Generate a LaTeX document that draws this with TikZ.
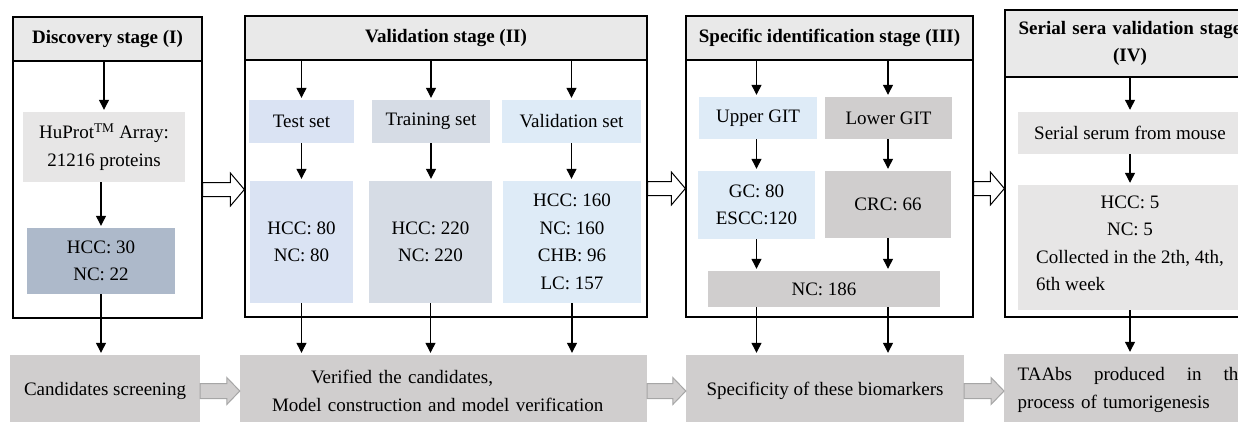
\documentclass[tikz,border=0pt]{standalone}
\usepackage{fontspec}
\setmainfont{Liberation Serif}
\usetikzlibrary{arrows.meta,calc}
\hyphenpenalty=10000
\definecolor{hdr}{HTML}{E9E9E9}
\definecolor{lgray}{HTML}{E7E6E6}
\definecolor{mgray}{HTML}{D0CECE}
\definecolor{dblue}{HTML}{ADB9CA}
\definecolor{blueA}{HTML}{DAE3F3}
\definecolor{blueB}{HTML}{D6DCE5}
\definecolor{blueC}{HTML}{DEEBF7}
\definecolor{arrgray}{HTML}{A6A6A6}
\newcommand{\blockarrow}[6]{%
  \draw[#1] let \p1=(#2), \p2=(#3) in
    (\x1,\y1+#4) -- (\x2-#6,\y1+#4) -- (\x2-#6,\y1+#5) -- (\x2,\y1)
    -- (\x2-#6,\y1-#5) -- (\x2-#6,\y1-#4) -- (\x1,\y1-#4) -- cycle;}
\begin{document}
\begin{tikzpicture}[x=1pt,y=-1pt,
  every node/.style={font=\fontsize{19}{27.5}\selectfont, inner sep=2pt},
  body/.style={draw=black, line width=1.3pt, fill=white, rectangle},
  header/.style={draw=black, line width=1.3pt, fill=hdr, rectangle, font=\fontsize{19}{27.5}\selectfont\bfseries, align=center},
  box/.style={rectangle, draw=none, align=center},
  bottombox/.style={rectangle, fill=mgray, draw=none, align=center},
  arr/.style={-{Triangle[length=10pt,width=10pt]}, line width=1.2pt, shorten >=2pt},
  hollow/.style={fill=white, draw=black, line width=1pt},
  grayarr/.style={fill=mgray, draw=arrgray, line width=1pt}]
\useasboundingbox (0,0) rectangle (1238,421);
\clip (0,0) rectangle (1238,421);

% ---------- Stage I ----------
\node[body, minimum width=189pt, minimum height=257pt] (b1) at (107.5,189.5) {};
\node[header, minimum width=189pt, minimum height=44pt] (h1) at (107.5,39) {Discovery stage (I)};
\node[box, fill=lgray, minimum width=162pt, minimum height=70pt] (hup) at (104,147) {HuProt\textsuperscript{TM} Array:\\21216 proteins};
\node[box, fill=dblue, minimum width=148pt, minimum height=66pt] (hcc1) at (101,261) {HCC: 30\\NC: 22};
\node[bottombox, minimum width=190pt, minimum height=72pt] (cand) at (105,391) {Candidates screening};

% ---------- Stage II ----------
\node[body, minimum width=402pt, minimum height=257pt] (b2) at (446,188.5) {};
\node[header, minimum width=402pt, minimum height=44pt] (h2) at (446,38) {Validation stage (II)};
\node[box, fill=blueA, minimum width=105pt, minimum height=43pt] (test) at (301.5,121.5) {Test set};
\node[box, fill=blueA, minimum width=103pt, minimum height=122pt] (testd) at (301.5,242) {HCC: 80\\NC: 80};
\node[box, fill=blueB, minimum width=118pt, minimum height=43pt] (train) at (431,121.5) {Training set};
\node[box, fill=blueB, minimum width=123pt, minimum height=122pt] (traind) at (430.5,242) {HCC: 220\\NC: 220};
\node[box, fill=blueC, minimum width=139pt, minimum height=43pt] (val) at (571.5,121.5) {Validation set};
\node[box, fill=blueC, minimum width=138pt, minimum height=122pt] (vald) at (572,242) {HCC: 160\\NC: 160\\CHB: 96\\LC: 157};
\node[bottombox, minimum width=407pt, minimum height=72pt, text width=343pt, inner xsep=32pt, align=left] (verif) at (443.5,391) {\hspace*{39pt}Verified the candidates,\\Model construction and model verification};

% ---------- Stage III ----------
\node[body, minimum width=287pt, minimum height=257pt] (b3) at (829.5,188.5) {};
\node[header, minimum width=287pt, minimum height=44pt] (h3) at (829.5,38) {Specific identification stage (III)};
\node[box, fill=blueC, minimum width=118pt, minimum height=42pt] (up) at (758,118) {Upper GIT};
\node[box, fill=mgray, minimum width=127pt, minimum height=42pt] (low) at (888.5,118) {Lower GIT};
\node[box, fill=blueC, minimum width=117pt, minimum height=68pt] (gc) at (756.5,205) {GC: 80\\ESCC:120};
\node[box, fill=mgray, minimum width=126pt, minimum height=67pt] (crc) at (888,204.5) {CRC: 66};
\node[box, fill=mgray, minimum width=232pt, minimum height=36pt] (nc) at (824,289) {NC: 186};
\node[bottombox, minimum width=278pt, minimum height=72pt] (spec) at (825,391) {Specificity of these biomarkers};

% ---------- Stage IV ----------
\node[body, minimum width=250pt, minimum height=240pt] (b4) at (1130,197) {};
\node[header, minimum width=250pt, minimum height=67pt, text width=236pt] (h4) at (1130,43.5) {Serial sera validation stage\\(IV)};
\node[box, fill=lgray, minimum width=224pt, minimum height=42pt] (ser) at (1130,133) {Serial serum from mouse};
\node[box, fill=lgray, minimum width=224pt, minimum height=125pt] (hcc5) at (1130,247.5) {HCC: 5\\NC: 5\\\begin{tabular}[t]{@{}l@{}}Collected in the 2th, 4th,\\6th week\end{tabular}};
\node[bottombox, minimum width=256pt, minimum height=72pt, text width=229pt, inner xsep=13pt, align=left, anchor=west] (taab) at (1004,390) {\hbox to 229pt{TAAbs\hfill produced\hfill in\hfill the}\\process of tumorigenesis};

% ---------- arrows stage I ----------
\draw[arr] (h1.south -| hup.north) -- (hup.north);
\draw[arr] (hup.south -| hcc1.north) -- (hcc1.north);
\draw[arr] (hcc1.south) -- (hcc1.south |- cand.north);

% ---------- arrows stage II ----------
\draw[arr] (h2.south -| test.north) -- (test.north);
\draw[arr] (test.south) -- (test.south |- testd.north);
\draw[arr] (testd.south) -- (testd.south |- verif.north);
\draw[arr] (h2.south -| train.north) -- (train.north);
\draw[arr] (train.south) -- (train.south |- traind.north);
\draw[arr] (traind.south) -- (traind.south |- verif.north);
\draw[arr] (h2.south -| val.north) -- (val.north);
\draw[arr] (val.south) -- (val.south |- vald.north);
\draw[arr] (vald.south) -- (vald.south |- verif.north);

% ---------- arrows stage III ----------
\draw[arr] (h3.south -| gc.north) -- (gc.north |- up.north);
\draw[arr] (up.south -| gc.north) -- (gc.north);
\draw[arr] (gc.south) -- (gc.south |- nc.north);
\draw[arr] (gc.south |- nc.south) -- (gc.south |- spec.north);
\draw[arr] (h3.south -| crc.north) -- (crc.north |- low.north);
\draw[arr] (low.south -| crc.north) -- (crc.north);
\draw[arr] (crc.south) -- (crc.south |- nc.north);
\draw[arr] (crc.south |- nc.south) -- (crc.south |- spec.north);

% ---------- arrows stage IV ----------
\draw[arr] (h4.south -| ser.north) -- (ser.north);
\draw[arr] (ser.south) -- (hcc5.north);
\draw[arr] (hcc5.south) -- (hcc5.south |- taab.north);

% ---------- block arrows ----------
\blockarrow{hollow}{b1.east}{b2.west}{7pt}{16.5pt}{14pt}
\blockarrow{hollow}{b2.east}{b3.west}{7pt}{16.5pt}{14pt}
\blockarrow{hollow}{b3.east}{b4.west}{7pt}{16.5pt}{14pt}
\blockarrow{grayarr}{cand.east}{verif.west}{7.5pt}{13.5pt}{13pt}
\blockarrow{grayarr}{verif.east}{spec.west}{7.5pt}{13.5pt}{13pt}
\blockarrow{grayarr}{spec.east}{taab.west}{7.5pt}{13.5pt}{13pt}
\end{tikzpicture}
\end{document}
